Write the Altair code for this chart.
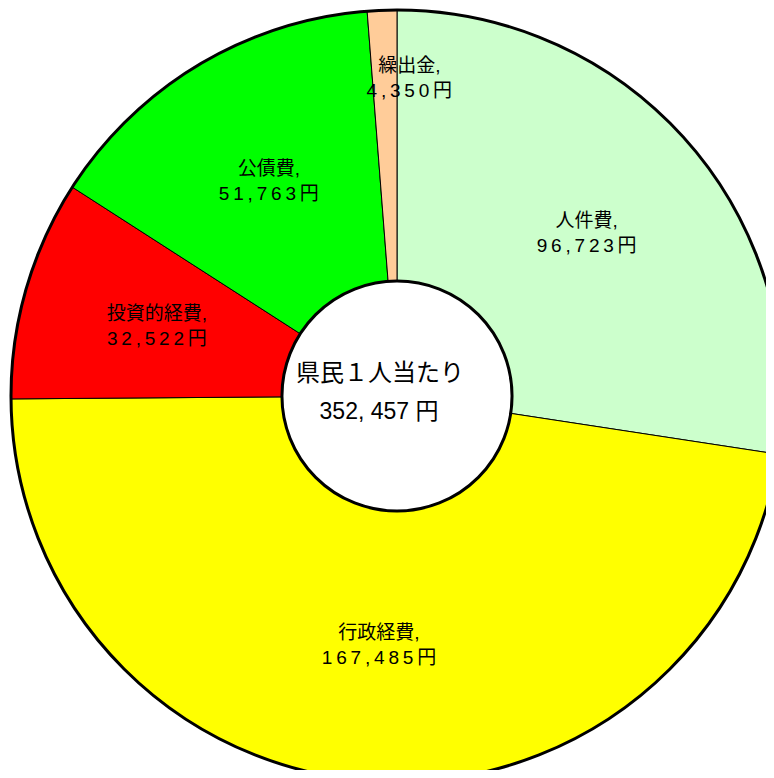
import altair as alt
import pandas as pd

names = ["人件費", "行政経費", "投資的経費", "公債費", "繰出金"]
values = [96723, 167485, 32522, 51763, 4350]
colors = ["#CCFFCC", "#FFFF00", "#FF0000", "#00FF00", "#FFCC99"]
center_line1 = "県民１人当たり"
center_line2 = "352, 457 円"

def spaced(v):
    return "\u2009".join(list(f"{v:,}")) + "\u2009円"

df = pd.DataFrame({
    "name": names,
    "value": values,
    "order": list(range(len(names))),
    "label": [f"{n},\n{spaced(v)}" for n, v in zip(names, values)],
})

CX, CY = 389, 388
R_OUT, R_IN = 386, 115
FONT = "Liberation Sans, Arial, Noto Sans CJK JP, sans-serif"
FULL = 7.0

base = alt.Chart(df)

slices = base.mark_arc(stroke="black", strokeWidth=1, radius=R_OUT).encode(
    theta=alt.Theta("value:Q", stack=True),
    order=alt.Order("order:Q"),
    color=alt.Color("name:N", scale=alt.Scale(domain=names, range=colors), legend=None),
    x=alt.value(CX), y=alt.value(CY),
)

one = alt.Data(values=[{"k": 1}])

outer = alt.Chart(one).mark_arc(
    fillOpacity=0, stroke="black", strokeWidth=3, radius=R_OUT
).encode(
    theta=alt.value(0), theta2=alt.value(FULL),
    x=alt.value(CX), y=alt.value(CY),
)

inner = alt.Chart(one).mark_arc(
    fill="white", stroke="black", strokeWidth=3, radius=R_IN
).encode(
    theta=alt.value(0), theta2=alt.value(FULL),
    x=alt.value(CX), y=alt.value(CY),
)

labels = base.transform_calculate(
    lr="datum.value < 10000 ? 318 : 250"
).mark_text(
    fontSize=19, font=FONT, lineBreak="\n", lineHeight=25, dy=-12,
    align="center", baseline="middle", color="black",
).encode(
    theta=alt.Theta("value:Q", stack=True),
    order=alt.Order("order:Q"),
    radius=alt.Radius("lr:Q", scale=None),
    text="label:N",
    x=alt.value(CX), y=alt.value(CY),
)

c1 = alt.Chart(one).mark_text(
    fontSize=24, font=FONT, align="center", baseline="middle", dx=-17, dy=-22, color="black"
).encode(text=alt.value(center_line1), x=alt.value(CX), y=alt.value(CY))

c2 = alt.Chart(one).mark_text(
    fontSize=23, font=FONT, align="center", baseline="middle", dx=-18, dy=16, color="black"
).encode(text=alt.value(center_line2), x=alt.value(CX), y=alt.value(CY))

chart = alt.layer(slices, outer, inner, labels, c1, c2).properties(
    width=758, height=762, padding=0,
    autosize=alt.AutoSizeParams(type="none"),
).configure_view(stroke=None)

chart.save("out.html", embed_options={"renderer": "svg", "actions": False})
